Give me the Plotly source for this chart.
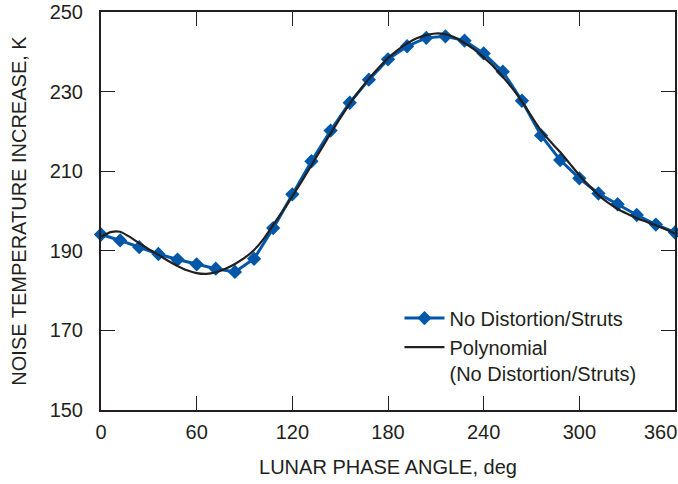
import plotly.graph_objects as go

# Measured data (blue diamonds, every 12 deg)
phase_deg = [0, 12, 24, 36, 48, 60, 72, 84, 96, 108, 120, 132, 144, 156, 168, 180,
             192, 204, 216, 228, 240, 252, 264, 276, 288, 300, 312, 324, 336, 348, 360]
no_distortion = [194.1, 192.6, 190.9, 189.2, 187.8, 186.6, 185.5, 184.7, 188.0, 195.7,
                 204.2, 212.5, 220.2, 227.2, 233.0, 238.1, 241.4, 243.5, 243.9, 242.8,
                 239.6, 235.0, 227.7, 219.0, 212.8, 208.2, 204.4, 201.7, 199.0, 196.6, 194.6]

# Polynomial fit curve (black)
poly_deg = [0, 6, 12, 18, 24, 30, 36, 42, 48, 54, 60, 66, 72, 78, 84, 90, 96, 102, 108,
            114, 120, 126, 132, 138, 144, 150, 156, 162, 168, 174, 180, 186, 192, 198,
            204, 210, 216, 222, 228, 234, 240, 246, 252, 258, 264, 270, 276, 282, 288,
            294, 300, 306, 312, 318, 324, 330, 336, 342, 348, 354, 360]
poly_vals = [193.5, 194.7, 194.8, 193.5, 191.9, 190.4, 189.0, 187.5, 186.2, 185.1, 184.4,
             184.2, 184.6, 185.5, 186.7, 188.2, 190.2, 193.0, 196.5, 200.0, 203.7, 207.5,
             211.5, 215.5, 219.5, 223.3, 227.0, 230.2, 233.2, 235.9, 238.4, 240.4, 242.1,
             243.4, 244.2, 244.6, 244.4, 243.6, 242.2, 240.6, 238.6, 236.4, 233.7, 230.8,
             227.5, 223.8, 220.2, 217.4, 214.8, 211.9, 209.0, 206.4, 204.0, 202.1, 200.5,
             199.3, 198.2, 197.3, 196.4, 195.4, 194.3]

x_ticks = [0, 60, 120, 180, 240, 300]
y_ticks = [150, 170, 190, 210, 230, 250]

BLUE = "#0057a8"
DARK = "#231f20"
FONT = "Liberation Sans, Arial, sans-serif"
FS = 20

fig = go.Figure()
fig.add_trace(go.Scatter(
    x=phase_deg, y=no_distortion, mode="lines+markers",
    name="No Distortion/Struts",
    line=dict(color=BLUE, width=3),
    marker=dict(symbol="diamond", size=11, color=BLUE),
    cliponaxis=False,
))
fig.add_trace(go.Scatter(
    x=poly_deg, y=poly_vals, mode="lines",
    name="Polynomial<br>(No Distortion/Struts)",
    line=dict(color=DARK, width=2.2, shape="spline", smoothing=0.6),
))

axis_common = dict(
    showgrid=False, zeroline=False, showline=True, linecolor=DARK, linewidth=2,
    mirror="ticks", ticks="inside", ticklen=14, tickwidth=1.2, tickcolor=DARK,
    ticklabeloverflow="allow",
    tickfont=dict(family=FONT, size=FS, color=DARK),
)

fig.update_layout(
    width=678, height=484,
    margin=dict(l=101, r=1, t=9, b=74),
    paper_bgcolor="white", plot_bgcolor="white",
    font=dict(family=FONT, size=FS, color=DARK),
    showlegend=True,
    legend=dict(x=0.52, y=0.28, xanchor="left", yanchor="top",
                bgcolor="rgba(0,0,0,0)", valign="top",
                font=dict(family=FONT, size=FS, color=DARK),
                tracegroupgap=0, itemwidth=40),
    xaxis=dict(range=[0, 360], tickvals=x_ticks, ticklabelstandoff=3,
               title=dict(text="LUNAR PHASE ANGLE, deg", standoff=18,
                          font=dict(family=FONT, size=FS, color=DARK)),
               **axis_common),
    yaxis=dict(range=[150, 250], tickvals=y_ticks, ticklabelstandoff=12,
               title=dict(text="NOISE TEMPERATURE INCREASE, K", standoff=18,
                          font=dict(family=FONT, size=FS, color=DARK)),
               **axis_common),
    annotations=[dict(x=360, y=0, xref="x", yref="paper", text="360",
                      xanchor="right", yanchor="top", yshift=-9, xshift=4,
                      showarrow=False, font=dict(family=FONT, size=FS, color=DARK))],
)

fig.write_html("out.html")
